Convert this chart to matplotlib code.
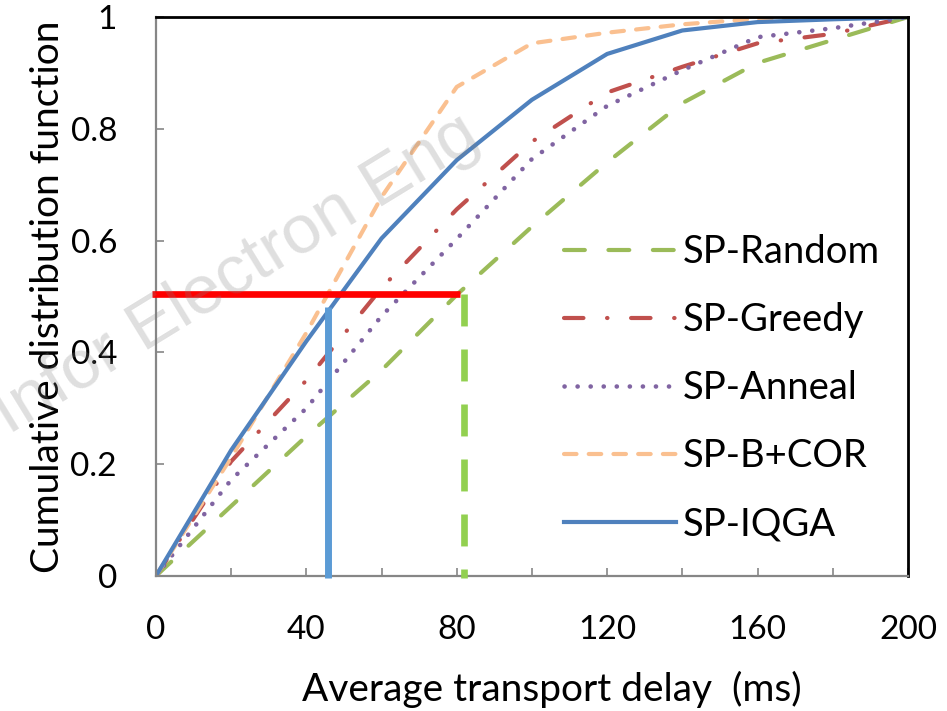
import matplotlib
matplotlib.use("Agg")
import matplotlib.pyplot as plt
from matplotlib.ticker import MultipleLocator

# ---------------- data ----------------
delay = [0, 20, 40, 60, 80, 100, 120, 140, 160, 180, 200]
sp_random = [0, 0.125, 0.25, 0.368, 0.503, 0.625, 0.74, 0.846, 0.918, 0.959, 1.0]
sp_greedy = [0, 0.205, 0.35, 0.515, 0.656, 0.777, 0.865, 0.911, 0.953, 0.97, 1.0]
sp_anneal = [0, 0.172, 0.30, 0.465, 0.603, 0.746, 0.841, 0.905, 0.964, 0.98, 1.0]
sp_bcor = [0, 0.212, 0.435, 0.678, 0.875, 0.953, 0.972, 0.987, 0.997, 1.0, 1.0]
sp_iqga = [0, 0.225, 0.42, 0.604, 0.744, 0.852, 0.934, 0.976, 0.991, 0.996, 1.0]

labels = ["SP-Random", "SP-Greedy", "SP-Anneal", "SP-B+COR", "SP-IQGA"]

# helper guide lines (median markers)
median_level = 0.505
median_x_range = [-1, 81]
iqga_median = 45.7
iqga_top = 0.482
random_median = 81.9

x_ticks = [0, 40, 80, 120, 160, 200]
y_ticks = [0, 0.2, 0.4, 0.6, 0.8, 1.0]
y_ticklabels = ["0", "0.2", "0.4", "0.6", "0.8", "1"]

# ---------------- style ----------------
plt.rcParams["font.family"] = ["Lato", "DejaVu Sans"]
plt.rcParams["lines.scale_dashes"] = False

fig = plt.figure(figsize=(9.47, 7.11), dpi=100, facecolor="white")
ax = fig.add_axes([0.1647, 0.19, 0.794, 0.786])

ax.plot(delay, sp_random, color="#9BBB59", lw=3, dashes=(15, 17), dash_capstyle="round", label=labels[0])
ax.plot(delay, sp_greedy, color="#C0504D", lw=3, dashes=(14, 17, 0.3, 17), dash_capstyle="round", label=labels[1])
ax.plot(delay, sp_anneal, color="#8064A2", lw=3.3, dashes=(0.1, 9.3), dash_capstyle="round", label=labels[2])
ax.plot(delay, sp_bcor, color="#FAC090", lw=3, dashes=(9, 8.8), dash_capstyle="round", label=labels[3])
ax.plot(delay, sp_iqga, color="#4F81BD", lw=3, label=labels[4])

# guide lines
ax.plot(median_x_range, [median_level, median_level], color="#FF0000", lw=4.8,
        solid_capstyle="butt", clip_on=False, zorder=5)
ax.plot([iqga_median, iqga_median], [-0.004, iqga_top], color="#5B9BD5", lw=5,
        solid_capstyle="butt", clip_on=False, zorder=5)
ax.plot([random_median, random_median], [median_level, -0.004], color="#92D050", lw=4.8,
        dashes=(23, 16.6), dash_capstyle="butt", clip_on=False, zorder=5)

ax.set_xlim(0, 200)
ax.set_ylim(0, 1)
ax.set_xticks(x_ticks)
ax.xaxis.set_minor_locator(MultipleLocator(20))
ax.set_yticks(y_ticks)
ax.set_yticklabels(y_ticklabels)

ax.tick_params(axis="both", which="both", direction="in", color="#868686", width=1.2, length=6)
ax.tick_params(axis="x", which="major", labelsize=24, pad=28)
ax.tick_params(axis="y", which="major", labelsize=24, pad=28)

for s in ("left", "bottom"):
    ax.spines[s].set_color("#868686")
    ax.spines[s].set_linewidth(1.6)
for s in ("top", "right"):
    ax.spines[s].set_color("black")
    ax.spines[s].set_linewidth(2)

ax.set_xlabel("Average transport delay  (ms)", fontsize=28)
ax.xaxis.set_label_coords(0.526, -0.17)
ax.set_ylabel("Cumulative distribution function", fontsize=28, labelpad=3)

leg = ax.legend(loc="center left", bbox_to_anchor=(0.5426, 0.336), frameon=False,
                fontsize=27.5, handlelength=2.93, handletextpad=0.18, labelspacing=0.84,
                borderpad=0, borderaxespad=0)

# faint watermark
fig.text(0.51, 0.797, "Infor Electron Eng", fontsize=50, family="Liberation Sans",
         color="gray", alpha=0.25, rotation=31.5, ha="right", va="baseline",
         rotation_mode="anchor", zorder=10)

fig.savefig("out.png", dpi=100, facecolor="white")
